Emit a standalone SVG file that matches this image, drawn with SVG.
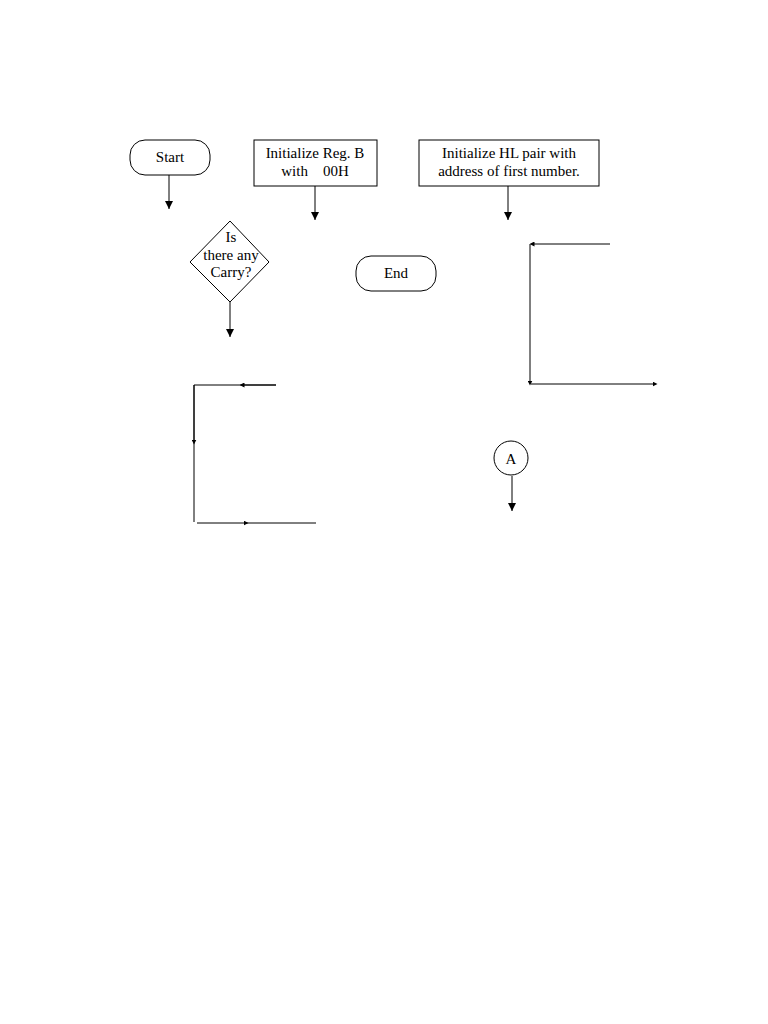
<svg xmlns="http://www.w3.org/2000/svg" width="768" height="1024" viewBox="0 0 768 1024">
<style>
.s{fill:#fff;stroke:#000;stroke-width:1}
.t{font-family:"Liberation Serif",serif;font-size:15px;text-anchor:middle;fill:#000}
.c{stroke:#000;stroke-width:1;fill:none}
</style>
<defs>
<marker id="a" viewBox="0 0 10 10" refX="10" refY="5" markerWidth="8" markerHeight="8" markerUnits="userSpaceOnUse" orient="auto"><path d="M0,0L10,5L0,10z"/></marker>
<marker id="b" viewBox="0 0 10 10" refX="5" refY="5" markerWidth="5" markerHeight="5" markerUnits="userSpaceOnUse" orient="auto"><path d="M0,0L10,5L0,10z"/></marker>
</defs>
<rect width="768" height="1024" fill="#fff"/>
<g id="start"><rect class="s" x="130" y="140" width="80" height="35" rx="15"/><text class="t" x="170" y="162">Start</text></g>
<g id="initB"><rect class="s" x="254" y="140" width="123" height="46"/><text class="t" x="315" y="158">Initialize Reg. B</text><text class="t" x="315" y="176" xml:space="preserve">with    00H</text></g>
<g id="initHL"><rect class="s" x="419" y="140" width="180" height="46"/><text class="t" x="509" y="158">Initialize HL pair with</text><text class="t" x="509" y="176">address of first number.</text></g>
<g id="carry"><polygon class="s" points="230,221 269,262 230,302 190,262"/><text class="t" x="231" y="242">Is</text><text class="t" x="231" y="260">there any</text><text class="t" x="231" y="277">Carry?</text></g>
<g id="end"><rect class="s" x="356" y="256" width="80" height="35" rx="15"/><text class="t" x="396" y="278">End</text></g>
<g id="A"><circle class="s" cx="511" cy="458" r="17"/><text class="t" x="511" y="464">A</text></g>
<g id="connectors">
<line class="c" x1="169" y1="175" x2="169" y2="209" marker-end="url(#a)"/>
<line class="c" x1="315" y1="186" x2="315" y2="220" marker-end="url(#a)"/>
<line class="c" x1="508" y1="186" x2="508" y2="220" marker-end="url(#a)"/>
<line class="c" x1="230" y1="302" x2="230" y2="337" marker-end="url(#a)"/>
<line class="c" x1="512" y1="476" x2="512" y2="511" marker-end="url(#a)"/>
<line class="c" x1="610" y1="244" x2="532" y2="244" marker-end="url(#b)"/>
<line class="c" x1="530" y1="244" x2="530" y2="383" marker-end="url(#b)"/>
<line class="c" x1="531" y1="384" x2="655" y2="384" marker-end="url(#b)"/>
<path class="c" d="M276,385H243"/><line class="c" x1="276" y1="385" x2="242" y2="385" marker-end="url(#b)"/>
<path class="c" d="M242,385H194V440"/><line class="c" x1="194" y1="385" x2="194" y2="442" marker-end="url(#b)"/>
<path class="c" d="M194,440V522"/>
<line class="c" x1="197" y1="523" x2="246" y2="523" marker-end="url(#b)"/>
<path class="c" d="M246,523H316"/>
</g>
</svg>
